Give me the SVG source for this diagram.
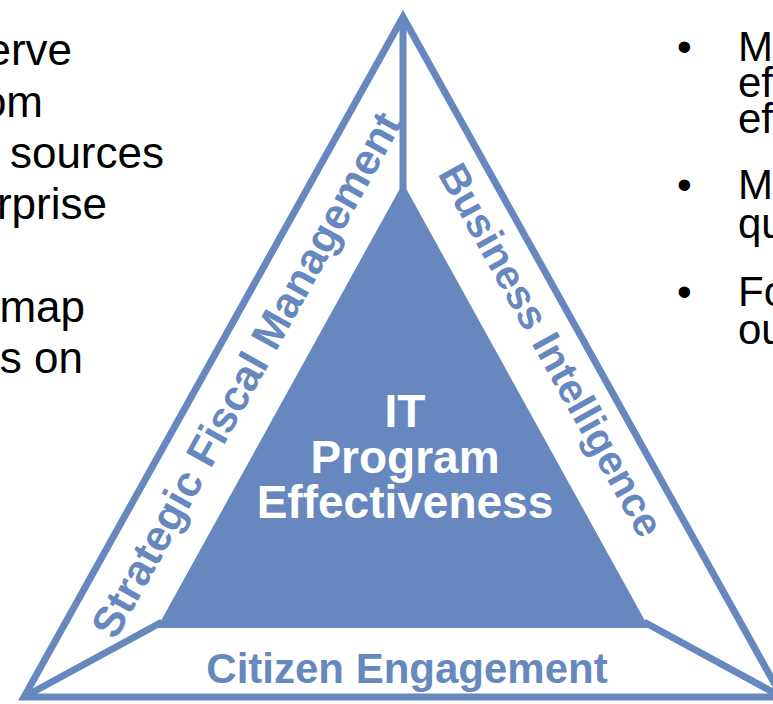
<svg xmlns="http://www.w3.org/2000/svg" width="773" height="704" viewBox="0 0 773 704">
  <defs>
    <style>
      .edge { fill: none; stroke: #6788BE; stroke-width: 7; stroke-linejoin: miter; stroke-miterlimit: 10; }
      .core { fill: #6788BE; stroke: none; }
      .side { font-family: "Liberation Sans", Arial, sans-serif; font-weight: bold; fill: #6788BE; }
      .center { font-family: "Liberation Sans", Arial, sans-serif; font-weight: bold; fill: #FFFFFF; font-size: 46px; text-anchor: middle; }
      .body { font-family: "Liberation Sans", Arial, sans-serif; fill: #000000; font-size: 44px; }
      .bullets { font-size: 42px; }
    </style>
  </defs>
  <rect width="773" height="704" fill="#FFFFFF"/>

  <!-- left column text -->
  <g id="left-text" class="body" text-anchor="end">
    <text x="72" y="65">erve</text>
    <text x="43" y="117">om</text>
    <text x="164" y="168">sources</text>
    <text x="107" y="219">rprise</text>
    <text x="85" y="322">map</text>
    <text x="83" y="373">s on</text>
  </g>

  <!-- right column bullets -->
  <g id="right-text" class="body bullets">
    <text x="677" y="61">•</text>
    <text x="738" y="61">M</text>
    <text x="738" y="97">ef</text>
    <text x="738" y="133">ef</text>
    <text x="677" y="199">•</text>
    <text x="738" y="199">M</text>
    <text x="738" y="238">qu</text>
    <text x="677" y="306">•</text>
    <text x="738" y="306">Fo</text>
    <text x="738" y="344">ou</text>
  </g>

  <!-- connectors: outer frame and spokes -->
  <g id="connectors">
    <polygon class="edge" points="403,17 24,697 782,697"/>
    <line class="edge" x1="403" y1="17" x2="403" y2="190"/>
    <line class="edge" x1="24" y1="697" x2="162" y2="622"/>
    <line class="edge" x1="782" y1="697" x2="644" y2="622"/>
  </g>

  <!-- central triangle -->
  <g id="it-program-effectiveness">
    <polygon class="core" points="403,183 157,628 649,628"/>
    <text class="center" x="405" y="427">IT</text>
    <text class="center" x="405" y="473">Program</text>
    <text class="center" x="405" y="518">Effectiveness</text>
  </g>

  <g id="strategic-fiscal-management">
    <text class="side" font-size="43" text-anchor="middle" transform="translate(247,375) rotate(-61)" x="0" y="14">Strategic Fiscal Management</text>
  </g>

  <g id="business-intelligence">
    <text class="side" font-size="41" text-anchor="middle" transform="translate(551,350) rotate(61)" x="0" y="14">Business Intelligence</text>
  </g>

  <g id="citizen-engagement">
    <text class="side" font-size="42" text-anchor="middle" x="407" y="683">Citizen Engagement</text>
  </g>
</svg>
